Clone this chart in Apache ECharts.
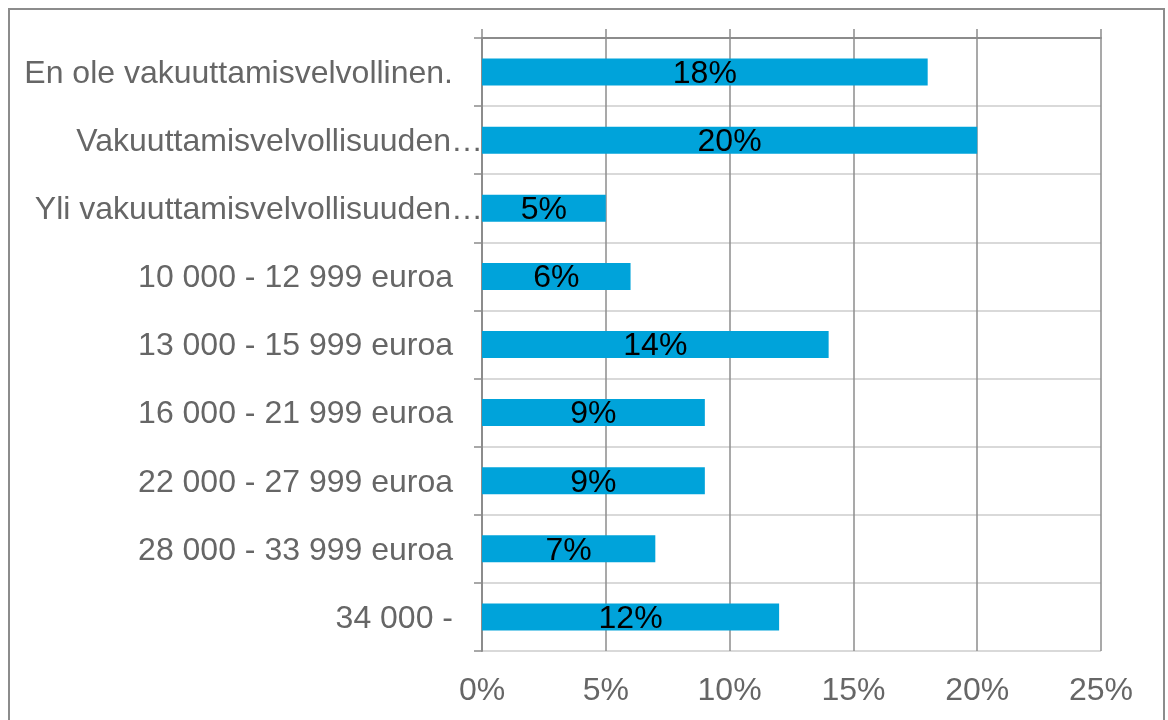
<!DOCTYPE html>
<html>
<head>
<meta charset="utf-8">
<script src="https://cdn.jsdelivr.net/npm/echarts@6/dist/echarts.min.js"></script>
<style>
  html, body { margin: 0; padding: 0; background: #fff; }
  #chart { width: 1168px; height: 720px; }
</style>
</head>
<body>
<div id="chart"></div>
<script>
// kategoriat ylhäältä alas
const categories = [
  'En ole vakuuttamisvelvollinen.',
  'Vakuuttamisvelvollisuuden…',
  'Yli vakuuttamisvelvollisuuden…',
  '10 000 - 12 999 euroa',
  '13 000 - 15 999 euroa',
  '16 000 - 21 999 euroa',
  '22 000 - 27 999 euroa',
  '28 000 - 33 999 euroa',
  '34 000 -'
]
const values = [18, 20, 5, 6, 14, 9, 9, 7, 12]
// katkaistut nimet ulottuvat akseliin asti
const truncated = ['Vakuuttamisvelvollisuuden…', 'Yli vakuuttamisvelvollisuuden…']
const xTicks = { min: 0, max: 25, interval: 5 }

const dark = '#8c8c8c'
const light = '#d9d9d9'
const textGray = '#666666'
const font = "'Liberation Sans', Arial, sans-serif"

const chart = echarts.init(document.getElementById('chart'))
chart.setOption({
  animation: false,
  graphic: [{
    type: 'rect',
    shape: { x: 9, y: 9, width: 1155, height: 800 },
    style: { fill: 'none', stroke: dark, lineWidth: 2 },
    silent: true
  }],
  grid: { left: 482, right: 67, top: 38, bottom: 69, containLabel: false },
  xAxis: [
    {
      type: 'value',
      position: 'bottom',
      min: xTicks.min, max: xTicks.max, interval: xTicks.interval,
      axisLine: { show: false },
      axisTick: { show: false },
      splitLine: { show: true, lineStyle: { color: dark, width: 1.5 } },
      axisLabel: {
        formatter: '{value}%',
        color: textGray, fontSize: 32, fontFamily: font, margin: 24
      }
    },
    {
      // ylälaidan viiva ja pienet ulkonemat
      type: 'value',
      position: 'top',
      min: xTicks.min, max: xTicks.max, interval: xTicks.interval,
      axisLine: { show: true, lineStyle: { color: dark, width: 2 } },
      axisTick: { show: true, length: 9, lineStyle: { color: dark, width: 1.5 } },
      axisLabel: { show: false },
      splitLine: { show: false }
    }
  ],
  yAxis: {
    type: 'category',
    inverse: true,
    data: categories,
    axisLine: { show: true, lineStyle: { color: dark, width: 2 } },
    axisTick: { show: true, length: 8, lineStyle: { color: dark, width: 1.5 } },
    splitLine: { show: true, lineStyle: { color: light, width: 2 } },
    axisLabel: {
      margin: -1,
      formatter: function (v) {
        return truncated.indexOf(v) >= 0 ? '{t|' + v + '}' : '{t|' + v + '}{g|}'
      },
      rich: {
        t: { color: textGray, fontSize: 32, fontFamily: font, padding: [4, 0, 0, 0] },
        g: { width: 30 }
      }
    }
  },
  series: [{
    type: 'bar',
    data: values,
    barWidth: 27,
    itemStyle: { color: '#00a3da' },
    label: {
      show: true,
      position: 'inside',
      offset: [0, 2],
      formatter: '{c}%',
      color: '#000',
      fontSize: 32,
      fontFamily: font
    }
  }]
})
</script>
</body>
</html>
